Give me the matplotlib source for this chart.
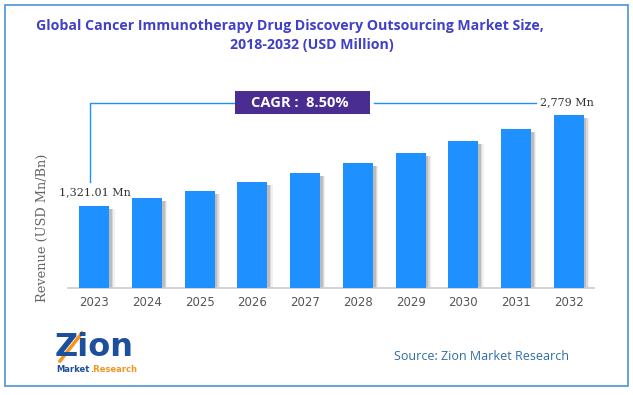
import matplotlib
matplotlib.use("Agg")
import matplotlib.pyplot as plt
from matplotlib.patches import Rectangle

years = ["2023", "2024", "2025", "2026", "2027", "2028", "2029", "2030", "2031", "2032"]
revenue = [1321.01, 1448, 1560, 1700, 1842, 2005, 2168, 2360, 2553, 2779]
first_label = "1,321.01 Mn"
last_label = "2,779 Mn"
cagr_text = "CAGR :  8.50%"
title_1 = "Global Cancer Immunotherapy Drug Discovery Outsourcing Market Size,"
title_2 = "2018-2032 (USD Million)"
source_text = "Source: Zion Market Research"

W, H = 633, 395

def fx(x):
    return x / W

def fy(y):
    return 1 - y / H

fig = plt.figure(figsize=(W / 100, H / 100), dpi=100)
fig.patch.set_facecolor("white")

# blue frame
fig.patches.append(Rectangle((fx(4.5), fy(386)), fx(623), (386 - 4.7) / H,
                             transform=fig.transFigure, fill=False,
                             edgecolor="#5b9bd5", linewidth=1.3))

ax = fig.add_axes([fx(68), fy(288), fx(594 - 68), (288 - 95) / H])
x = list(range(len(years)))

# soft shadow on the right of each bar
for off, a in [(0.10, 0.08), (0.075, 0.14), (0.05, 0.22)]:
    ax.bar([i + off for i in x], [v - 50 for v in revenue], width=0.57,
           color="#555555", alpha=a, zorder=1, linewidth=0)
ax.bar(x, revenue, width=0.57, color="#1e90ff", zorder=3, linewidth=0)

ax.set_xlim(-0.5, 9.48)
ax.set_ylim(0, 3100)
for s in ["top", "right", "left"]:
    ax.spines[s].set_visible(False)
ax.spines["bottom"].set_color("#cccccc")
ax.spines["bottom"].set_linewidth(1.2)
ax.set_yticks([])
ax.set_xticks(x)
ax.set_xticklabels(years, fontsize=8.5, color="#555555", family="DejaVu Sans")
ax.tick_params(axis="x", length=0, pad=6)

fig.text(fx(42), fy(228), "Revenue (USD Mn/Bn)", family="DejaVu Serif", fontsize=9.3,
         color="#666666", rotation=90, ha="center", va="center")

# value labels
fig.text(fx(95), fy(192), first_label, family="DejaVu Serif", fontsize=8,
         color="#333333", ha="center", va="center")
fig.text(fx(540), fy(102), last_label, family="DejaVu Serif", fontsize=8,
         color="#333333", ha="left", va="center")

# CAGR connector lines
fig.add_artist(plt.Line2D([fx(90), fx(90), fx(234)], [fy(182), fy(103), fy(103)],
                          transform=fig.transFigure, color="#1e90ff", linewidth=1))
fig.add_artist(plt.Line2D([fx(374), fx(536)], [fy(103), fy(103)],
                          transform=fig.transFigure, color="#1e90ff", linewidth=1))
fig.patches.append(Rectangle((fx(235), fy(114)), fx(370 - 235), 23 / H,
                             transform=fig.transFigure, facecolor="#4a2d91",
                             edgecolor="none"))
fig.text(fx(300), fy(103), cagr_text, family="Open Sans", fontweight="bold",
         fontsize=10.5, color="white", ha="center", va="center")

# title
fig.text(fx(290), fy(26), title_1, family="Open Sans", fontweight="bold",
         fontsize=10.2, color="#4040c8", ha="center", va="center")
fig.text(fx(312), fy(45), title_2, family="Open Sans", fontweight="bold",
         fontsize=10.2, color="#4040c8", ha="center", va="center")

# source
fig.text(fx(394), fy(357), source_text, family="Open Sans", fontsize=9,
         color="#2e6ca8", ha="left", va="center")

# logo
fig.text(fx(55), fy(347), "Zion", family="DejaVu Sans", fontweight="bold",
         fontsize=23, color="#1d4f9c", ha="left", va="center")
fig.add_artist(plt.Line2D([fx(60), fx(82)], [fy(361), fy(333)],
                          transform=fig.transFigure, color="#f7941d", linewidth=2.5))
fig.text(fx(56), fy(369), "Market", family="DejaVu Sans", fontweight="bold",
         fontsize=6, color="#1d4f9c", ha="left", va="center")
fig.text(fx(90), fy(369), ".Research", family="DejaVu Sans", fontweight="bold",
         fontsize=6, color="#f7941d", ha="left", va="center")

fig.savefig("out.png", dpi=100)
